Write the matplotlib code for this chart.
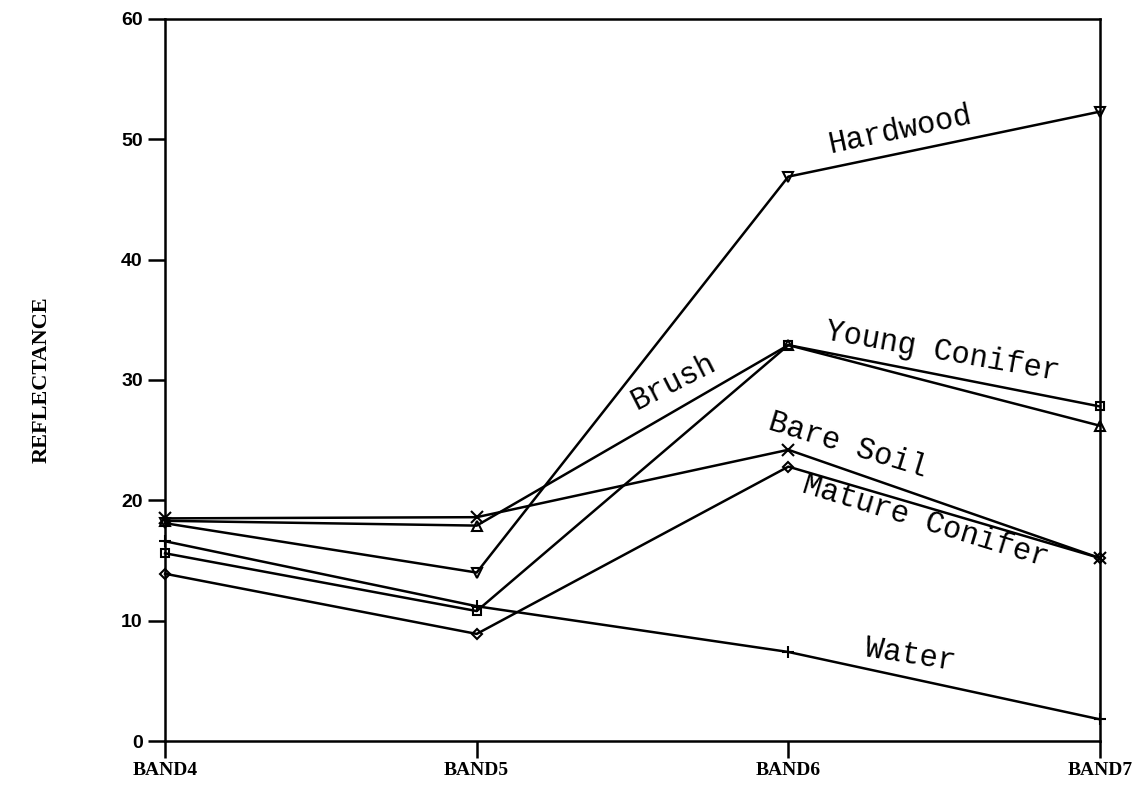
import matplotlib
matplotlib.use("Agg")
import matplotlib.pyplot as plt

bands = ["BAND4", "BAND5", "BAND6", "BAND7"]
hardwood = [18.1, 14.0, 46.9, 52.3]
young_conifer = [15.6, 10.8, 32.9, 27.8]
brush = [18.3, 17.9, 32.9, 26.2]
bare_soil = [18.5, 18.6, 24.2, 15.2]
mature_conifer = [13.9, 8.9, 22.8, 15.2]
water = [16.6, 11.2, 7.4, 1.8]

series = [
    (hardwood, "v", 7, "none"),
    (young_conifer, "s", 6, "none"),
    (brush, "^", 7, "none"),
    (bare_soil, "x", 8, "k"),
    (mature_conifer, "D", 5, "none"),
    (water, "+", 9, "k"),
]

labels = [
    ("Hardwood", 2.358, 50.8, 12),
    ("Young Conifer", 2.496, 32.3, -10),
    ("Brush", 1.633, 29.8, 27),
    ("Bare Soil", 2.191, 24.6, -17),
    ("Mature Conifer", 2.439, 18.2, -17),
    ("Water", 2.390, 7.1, -9),
]

fig = plt.figure(figsize=(11.47, 7.9), dpi=100)
ax = fig.add_axes([0.1439, 0.062, 0.959 - 0.1439, 0.976 - 0.062])
x = list(range(len(bands)))
for vals, m, ms, mfc in series:
    ax.plot(x, vals, color="k", lw=1.8, marker=m, ms=ms, mfc=mfc,
            mec="k", mew=1.5, clip_on=False, zorder=3)

for txt, xx, yy, rot in labels:
    ax.text(xx, yy, txt, rotation=rot, ha="center", va="center",
            fontsize=22, family="Liberation Mono", rotation_mode="anchor")

ax.set_xlim(0, 3)
ax.set_ylim(0, 60)
ax.set_xticks(x)
ax.set_xticklabels(bands, fontsize=14, fontweight="bold", family="Liberation Serif")
ax.set_yticks(range(0, 61, 10))
ax.set_yticklabels([str(v) for v in range(0, 61, 10)], fontsize=14,
                   fontweight="bold", family="Liberation Sans")
ax.tick_params(direction="out", length=12, width=1.8)
ax.tick_params(axis="x", pad=3)
ax.tick_params(axis="y", pad=4)
for s in ax.spines.values():
    s.set_linewidth(1.8)
ax.set_ylabel("REFLECTANCE", fontsize=16, fontweight="bold",
              family="Liberation Serif")
ax.yaxis.set_label_coords(-0.121, 0.5)
fig.savefig("out.png", dpi=100)
